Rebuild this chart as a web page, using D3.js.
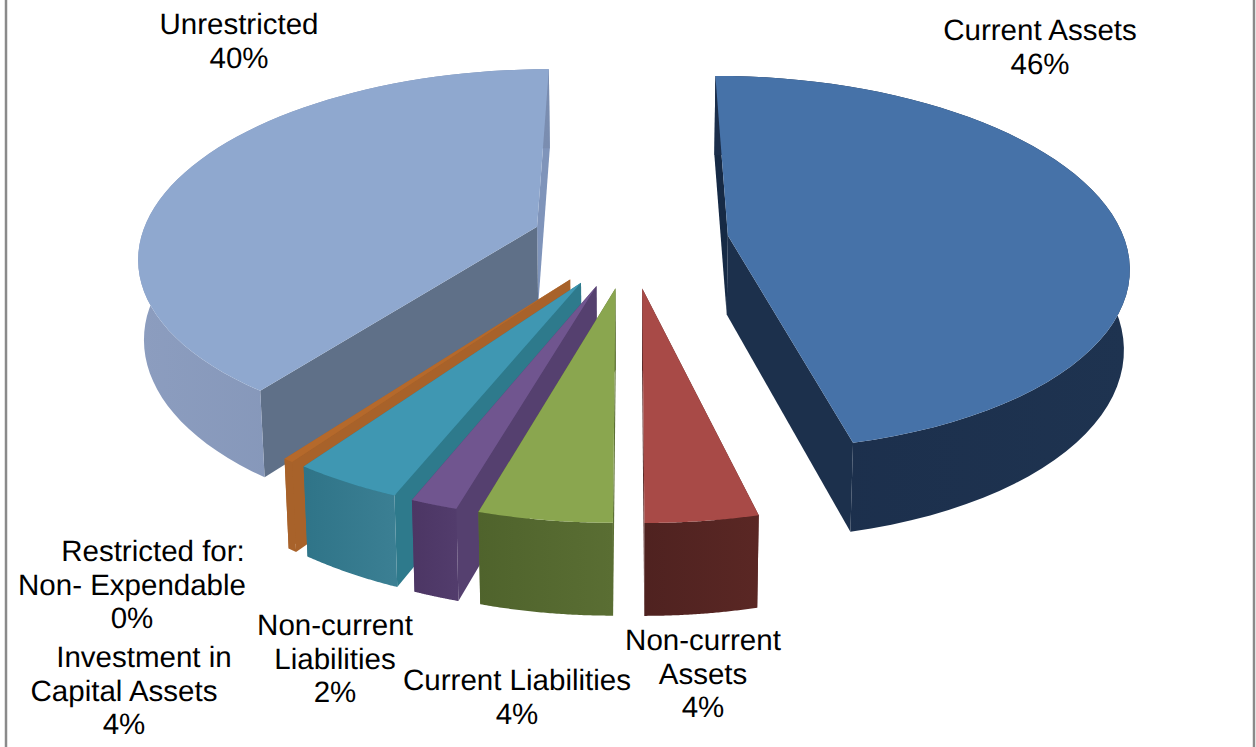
<!DOCTYPE html>
<html><head><meta charset="utf-8">
<script src="https://cdn.jsdelivr.net/npm/d3@7"></script>
<style>html,body{margin:0;background:#fff}svg{display:block}text{font-family:"Liberation Sans",Arial,sans-serif;font-size:29.5px;fill:#000;text-rendering:geometricPrecision}</style>
</head><body><svg id="c" width="1256" height="747"></svg>
<script>
const categories=["Current Assets","Non-current Assets","Current Liabilities","Non-current Liabilities","Investment in Capital Assets","Restricted for: Non- Expendable","Unrestricted"];
const values=[46.2,3.8,4.5,1.6,3.7,0.35,39.85];
const percents=["46%","4%","4%","2%","4%","0%","40%"];
const topColors=["#4672a8","#a84a47","#8aa64f","#70558f","#3f97b2","#b5692b","#8fa8cf"];
const wallDark=["#1b2e4b","#4f2220","#4f632c","#4c3664","#2f7488","#a8622a","#7a8db0"];
const wallLight=["#1e3350","#5a2724","#5a6e33","#523c6c","#3b7f93","#a8622a","#8c9dbf"];
const innerStart=["#162a45","#5a2a28","#5c7034","#55406f","#2e7a8c","#a8622a","#7f94ba"];
const innerEnd=["#1c304c","#5a2a28","#5c7034","#55406f","#2e7a8c","#a8622a","#5f7088"];
const labelLines=[["Current Assets"],["Non-current","Assets"],["Current Liabilities"],["Non-current","Liabilities"],["Investment in","Capital Assets"],["Restricted for:","Non- Expendable"],["Unrestricted"]];
const labelAnchors=[[1040,40],[703,650],[517,690],[335,635],[124,667],[132,561],[239,34]];
const firstLineShift=[0,0,0,0,20,21,0];

const W=1256,H=747,lh=33.5;
const svg=d3.select("#c");
svg.append("rect").attr("x",6).attr("y",-3).attr("width",1248).attr("height",H+6).attr("fill","#fff").attr("stroke","#8a8a8a").attr("stroke-width",2.5);
const cx=630,cy=241,R=397,ex=99,q=0.465,k=0.00037,depth=79;
const defs=svg.append("defs");
function P(X,Y,Z){const w=1/(1-k*Y),s=1-0.00015*Z;return [cx+X*w*s,cy+q*Y*w+Z*Math.max(1,Math.pow(w,0.8))];}
const pie=d3.pie().sort(null).value(d=>d)(values);
const line=d3.line();
const arcsteps=a=>d3.range(0,61).map(i=>a.startAngle+(a.endAngle-a.startAngle)*i/60);
const slices=pie.map((a,i)=>{const mid=(a.startAngle+a.endAngle)/2;return {a,i,dx:ex*Math.sin(mid),dy:-ex*Math.cos(mid),mid};});
const order=[6,0,5,4,3,2,1];
order.forEach(i=>{const s=slices[i],a=s.a,g=svg.append("g");
 const pt=(t,Z)=>P(s.dx+R*Math.sin(t),s.dy-R*Math.cos(t),Z);
 const apex=Z=>P(s.dx,s.dy,Z);
 const ts=arcsteps(a);
 g.append("path").attr("d",line([apex(0),pt(a.endAngle,0),pt(a.endAngle,depth),apex(depth)])+"Z").attr("fill",i===6?innerStart[i]:innerEnd[i]);
 g.append("path").attr("d",line([apex(0),pt(a.startAngle,0),pt(a.startAngle,depth),apex(depth)])+"Z").attr("fill",i===6?innerEnd[i]:innerStart[i]);
 const xs=ts.map(t=>pt(t,0)[0]);
 const x0=d3.min(xs),x1=d3.max(xs),id="w"+i;
 const gr=defs.append("linearGradient").attr("id",id).attr("gradientUnits","userSpaceOnUse").attr("x1",x0).attr("x2",x1).attr("y1",0).attr("y2",0);
 gr.append("stop").attr("offset",0).attr("stop-color",i===6?wallLight[i]:wallDark[i]);
 gr.append("stop").attr("offset",1).attr("stop-color",i===6?wallDark[i]:wallLight[i]);
 g.append("path").attr("d",line(ts.map(t=>pt(t,0)).concat(ts.slice().reverse().map(t=>pt(t,depth))))+"Z").attr("fill",`url(#${id})`);
 g.append("path").attr("d",line([apex(0)].concat(ts.map(t=>pt(t,0))))+"Z").attr("fill",topColors[i]);
});
labelLines.forEach((ls,i)=>{const t=svg.append("text").attr("text-anchor","middle");
 ls.concat([percents[i]]).forEach((l,j)=>t.append("tspan").attr("x",labelAnchors[i][0]+(j===0?firstLineShift[i]:0)).attr("y",labelAnchors[i][1]+j*lh).text(l));});
</script></body></html>
